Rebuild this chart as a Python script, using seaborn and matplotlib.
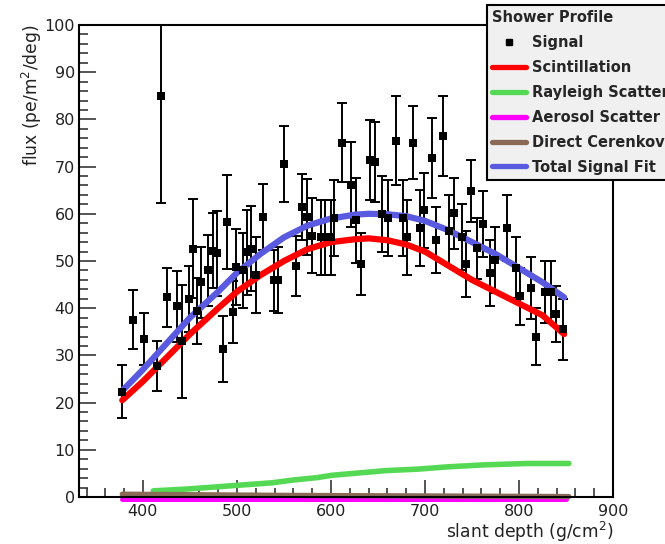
import numpy as np
import pandas as pd
import matplotlib
matplotlib.use("Agg")
from matplotlib import pyplot as plt
from matplotlib.lines import Line2D
from matplotlib.ticker import MultipleLocator
import seaborn as sns

# measured signal points
depth = [378, 389, 401, 415, 419, 426, 436, 442, 449, 453, 458, 462, 469, 474, 479,
         485, 489.5, 495.5, 499, 506, 511, 515, 520, 528, 539.5, 544, 550, 562.5, 569, 575,
         580, 589, 594, 600, 603, 611.7, 621, 626.5, 632, 641.7, 647, 654.7, 661, 669, 677,
         680.4, 687.5, 694.6, 699, 708, 712, 719, 726, 730.5, 739.6, 744, 749, 755, 762, 769,
         774, 787, 796.7, 801, 812.6, 818, 828, 834, 839, 847]
flux = [22.3, 37.6, 33.5, 27.7, 84.9, 42.3, 40.4, 33.0, 42.0, 52.6, 39.5, 45.5, 48.0, 52.2, 51.6,
        31.4, 58.2, 39.2, 48.7, 48.0, 51.9, 52.6, 47.0, 59.3, 45.9, 45.9, 70.5, 49.0, 61.5, 59.3,
        55.4, 55.0, 55.0, 55.0, 59.1, 75.1, 66.2, 58.6, 49.4, 71.4, 70.9, 60.0, 59.1, 75.5, 59.1,
        55.0, 75.1, 57.0, 60.7, 71.8, 54.5, 76.5, 56.4, 60.1, 55.0, 49.3, 64.8, 52.7, 57.9, 47.4,
        50.3, 56.9, 48.6, 42.5, 44.3, 34.0, 43.4, 43.4, 38.8, 35.5]
flux_err = [5.6, 6.3, 5.5, 5.3, 22.7, 6.2, 7.5, 12.0, 7.0, 10.5, 7.0, 7.5, 7.5, 8.0, 9.0,
            7.0, 10.0, 6.5, 8.0, 8.0, 9.0, 9.0, 8.0, 7.0, 6.5, 7.0, 8.0, 6.4, 7.0, 8.0,
            8.0, 8.0, 8.0, 8.0, 8.0, 8.3, 9.0, 9.0, 6.5, 8.5, 8.5, 8.0, 8.0, 9.5, 8.0,
            8.0, 7.8, 8.0, 8.0, 8.5, 7.0, 8.5, 7.5, 7.5, 7.0, 7.0, 6.5, 6.5, 7.0, 7.0,
            7.0, 7.0, 6.5, 6.0, 6.5, 6.0, 6.5, 6.5, 6.0, 6.5]

# fitted components
curve_x = [378, 400, 425, 450, 480, 500, 525, 550, 575, 600, 625, 640, 660, 680, 700,
           725, 750, 775, 800, 825, 848]
scint = [20.5, 24.5, 29.5, 34.5, 40.0, 43.5, 47.0, 50.0, 52.5, 54.0, 54.6, 54.8, 54.4, 53.5, 52.0,
         49.0, 46.0, 43.5, 41.0, 38.5, 34.5]
total = [22.5, 27.0, 32.5, 38.0, 43.5, 47.5, 51.5, 55.0, 57.5, 59.0, 59.8, 60.0, 59.9, 59.5, 58.5,
         56.5, 54.0, 51.5, 48.5, 45.5, 42.3]
rayleigh_x = [411, 448, 482, 502, 537, 560, 585, 601, 630, 659, 692, 725, 762, 808, 853]
rayleigh = [1.3, 1.7, 2.2, 2.5, 3.0, 3.6, 4.1, 4.6, 5.1, 5.6, 5.9, 6.4, 6.8, 7.1, 7.1]
aerosol_x = [378, 850]
aerosol = [-0.5, -0.5]
cerenkov_x = [378, 550, 550, 853]
cerenkov = [0.6, 0.6, 0.1, 0.1]

sig = pd.DataFrame({"depth": depth, "flux": flux, "err": flux_err})

sns.set_style("ticks")
plt.rcParams["font.family"] = ["DejaVu Sans"]

fig = plt.figure(figsize=(6.65, 5.44), dpi=100)
ax = fig.add_axes([79 / 665, 1 - 497 / 544, (613 - 79) / 665, (497 - 25) / 544])

sns.lineplot(x=rayleigh_x, y=rayleigh, ax=ax, color="#55d955", lw=4.0, sort=False)
sns.lineplot(x=aerosol_x, y=aerosol, ax=ax, color="#ff00ff", lw=3.6, sort=False)
sns.lineplot(x=cerenkov_x, y=cerenkov, ax=ax, color="#8c6a58", lw=3.8, sort=False)
for l in ax.lines[1:]:
    l.set_clip_on(False)

ax.errorbar(sig["depth"], sig["flux"], yerr=sig["err"], fmt="none", ecolor="black",
            elinewidth=1.4, capsize=3.5, capthick=1.4, zorder=3)
sns.lineplot(x=curve_x, y=total, ax=ax, color="#5a5ae0", lw=4.5, sort=False, zorder=4)
sns.lineplot(x=curve_x, y=scint, ax=ax, color="#ff0000", lw=4.5, sort=False, zorder=4)
sns.scatterplot(data=sig, x="depth", y="flux", ax=ax, marker="s", color="black",
                s=30, edgecolor="black", linewidth=0, zorder=5)

ax.set_xlim(332, 900)
ax.set_ylim(0, 100)
ax.xaxis.set_minor_locator(MultipleLocator(20))
ax.yaxis.set_major_locator(MultipleLocator(10))
ax.yaxis.set_minor_locator(MultipleLocator(2))
ax.set_xticks(range(400, 901, 100))
ax.tick_params(which="both", direction="in", top=False, right=False, width=1.1,
               labelsize=11.5, labelcolor="#222222")
ax.tick_params(which="major", length=12.5)
ax.tick_params(which="minor", length=6.5)
ax.tick_params(axis="x", which="major", pad=5)
ax.tick_params(axis="y", which="major", pad=3)
for s in ax.spines.values():
    s.set_linewidth(1.5)
    s.set_color("black")

ax.set_xlabel("slant depth (g/cm$^{2}$)", loc="right", fontsize=12.3, color="#222222", labelpad=1)
ax.set_ylabel("flux (pe/m$^{2}$/deg)", loc="top", fontsize=12.3, color="#222222", labelpad=0.5)

handles = [
    Line2D([], [], ls="none", marker="s", color="black", markersize=5),
    Line2D([], [], color="#ff0000", lw=3.8),
    Line2D([], [], color="#55d955", lw=3.8),
    Line2D([], [], color="#ff00ff", lw=3.8),
    Line2D([], [], color="#8c6a58", lw=3.8),
    Line2D([], [], color="#5a5ae0", lw=3.8),
]
labels = ["Signal", "Scintillation", "Rayleigh Scatter", "Aerosol Scatter",
          "Direct Cerenkov", "Total Signal Fit"]
leg = ax.legend(handles, labels, title="Shower Profile", loc="upper left",
                bbox_to_anchor=(487 / 665, 1 - 5 / 544), bbox_transform=fig.transFigure,
                prop={"weight": "bold", "size": 10.5},
                title_fontproperties={"weight": "bold", "size": 10.5},
                frameon=True, fancybox=False, framealpha=1, facecolor="#f0f0f0", edgecolor="black",
                handlelength=2.35, handletextpad=0.4, labelspacing=0.68, borderpad=0.35,
                borderaxespad=0)
leg._legend_box.align = "left"
leg.get_frame().set_linewidth(1.5)
leg.set_zorder(10)

fig.savefig("out.png", dpi=100)
